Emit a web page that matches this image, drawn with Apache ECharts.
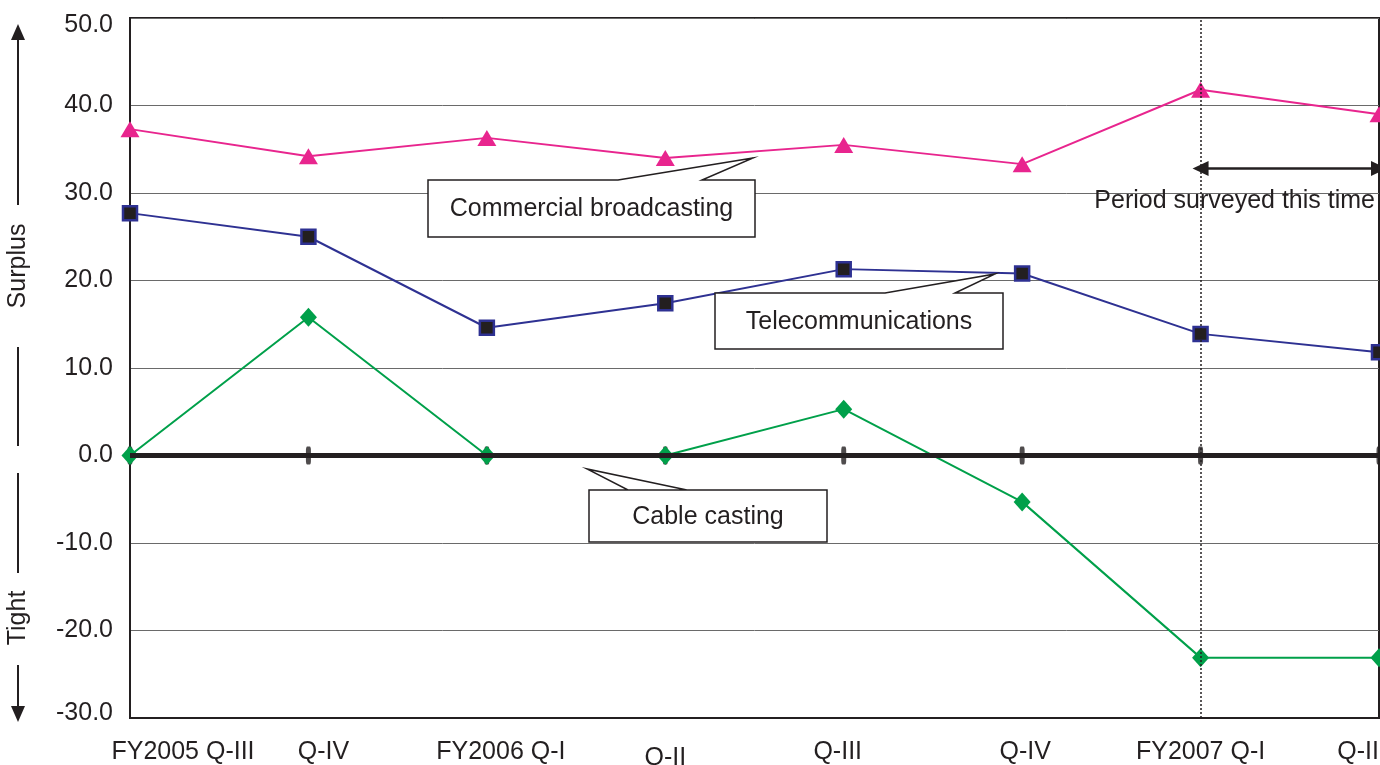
<!DOCTYPE html>
<html>
<head>
<meta charset="utf-8">
<script src="https://cdn.jsdelivr.net/npm/echarts@6/dist/echarts.min.js"></script>
<style>
  html, body { margin: 0; padding: 0; background: #fff; }
  #chart { width: 1380px; height: 765px; }
</style>
</head>
<body>
<div id="chart"></div>
<script>
// Quarterly labour balance index by industry
const categories = ['FY2005 Q-III', 'Q-IV', 'FY2006 Q-I', 'Q-II', 'Q-III', 'Q-IV', 'FY2007 Q-I', 'Q-II'];
const commercialBroadcasting = [37.3, 34.2, 36.3, 34.0, 35.5, 33.3, 41.8, 39.0];
const telecommunications = [27.7, 25.0, 14.6, 17.4, 21.3, 20.8, 13.9, 11.8];
const cableCasting = [0.0, 15.8, 0.0, 0.0, 5.3, -5.3, -23.1, -23.1];
const yMin = -30, yMax = 50, yStep = 10;
const surveyStartIndex = 6;   // first quarter of the surveyed period
const surveyArrowLevel = 32.8;

const INK = '#231F20';
const FONT = '"Liberation Sans", Arial, Helvetica, sans-serif';

const chart = echarts.init(document.getElementById('chart'), null, { renderer: 'canvas' });

// horizontal nudges for individual category labels (px, +right)
const labelShift = [53, 15, 14, 0, -6, 3, 0, 0];
const rich = {};
labelShift.forEach((s, i) => {
  rich['c' + i] = {
    fontSize: 25, fontFamily: FONT, color: INK,
    padding: [i === 3 ? 6 : 0, s < 0 ? -2 * s : 0, 0, s > 0 ? 2 * s : 0]
  };
});

// end labels of the value axis are pulled inward so they stay on the page
const yRich = {
  v: { fontSize: 25, fontFamily: FONT, color: INK },
  top: { fontSize: 25, fontFamily: FONT, color: INK, padding: [14, 0, 0, 0] },
  bottom: { fontSize: 25, fontFamily: FONT, color: INK, padding: [0, 0, 10, 0] }
};

// callout box with a pointer notch in its top edge
function callout(box, notch, text) {
  const [l, t, r, b] = box;
  const [n1, tipX, tipY, n2] = notch;
  return [
    {
      type: 'polygon', z: 50,
      shape: { points: [[l, t], [n1, t], [tipX, tipY], [n2, t], [r, t], [r, b], [l, b]] },
      style: { fill: '#fff', stroke: INK, lineWidth: 1.5 }
    },
    {
      type: 'text', z: 51,
      style: {
        text, x: (l + r) / 2, y: (t + b) / 2 + 1, align: 'center', verticalAlign: 'middle',
        font: '25px ' + FONT, fill: INK
      }
    }
  ];
}

const option = {
  animation: false,
  backgroundColor: '#fff',
  grid: {
    left: 130, right: 1, top: 18, bottom: 47,
    outerBoundsMode: 'none', containLabel: false,
    show: true, borderColor: INK, borderWidth: 2, backgroundColor: 'transparent'
  },
  xAxis: {
    type: 'category',
    data: categories,
    boundaryGap: false,
    axisLine: { onZero: false, lineStyle: { color: INK, width: 2 } },
    axisTick: { show: false },
    splitLine: { show: false },
    axisLabel: {
      interval: 0, margin: 22, alignMaxLabel: 'right', hideOverlap: false,
      formatter: (v, i) => '{c' + i + '|' + v + '}',
      rich
    }
  },
  yAxis: {
    type: 'value',
    min: yMin, max: yMax, interval: yStep,
    axisLine: { show: true, lineStyle: { color: INK, width: 2 } },
    axisTick: { show: false },
    splitLine: { lineStyle: { color: '#6a6a6a', width: 1 } },
    axisLabel: {
      margin: 17,
      formatter: v => {
        const key = v === yMax ? 'top' : v === yMin ? 'bottom' : 'v';
        return '{' + key + '|' + v.toFixed(1) + '}';
      },
      rich: yRich
    }
  },
  series: [
    {
      // zero baseline with tick marks at each quarter
      name: 'baseline',
      type: 'scatter',
      data: categories.map((c, i) => [i, 0]),
      symbol: 'roundRect',
      symbolSize: [5, 18],
      itemStyle: { color: INK },
      silent: true,
      z: 1,
      markLine: {
        silent: true,
        symbol: 'none',
        label: { show: false },
        data: [
          { yAxis: 0, lineStyle: { color: INK, width: 5, type: 'solid' } },
          { xAxis: surveyStartIndex, lineStyle: { color: INK, width: 1.5, type: [2, 2] } },
          [
            { coord: [surveyStartIndex, surveyArrowLevel], symbol: 'triangle', symbolSize: [15, 16] },
            { coord: [categories.length - 1, surveyArrowLevel], symbol: 'triangle', symbolSize: [15, 16],
              lineStyle: { color: INK, width: 2.5, type: 'solid' } }
          ]
        ]
      }
    },
    {
      name: 'Commercial broadcasting',
      type: 'line',
      data: commercialBroadcasting,
      symbol: 'triangle',
      symbolSize: [19, 16],
      lineStyle: { color: '#E8258E', width: 2 },
      itemStyle: { color: '#E8258E' },
      z: 3
    },
    {
      name: 'Telecommunications',
      type: 'line',
      data: telecommunications,
      symbol: 'rect',
      symbolSize: 14,
      lineStyle: { color: '#2E3192', width: 2 },
      itemStyle: { color: INK, borderColor: '#2E3192', borderWidth: 2.5 },
      z: 3
    },
    {
      name: 'Cable casting',
      type: 'line',
      data: cableCasting,
      symbol: 'diamond',
      symbolSize: [17, 19],
      lineStyle: { color: '#00A04A', width: 2 },
      itemStyle: { color: '#00A04A' },
      z: 3
    }
  ],
  graphic: [
    // "Surplus" direction marker
    { type: 'line', shape: { x1: 18, y1: 38, x2: 18, y2: 205 }, style: { stroke: INK, lineWidth: 2 } },
    { type: 'polygon', shape: { points: [[18, 24], [11, 40], [25, 40]] }, style: { fill: INK } },
    {
      type: 'text', x: 18, y: 266, rotation: Math.PI / 2,
      style: { text: 'Surplus', align: 'center', verticalAlign: 'middle', font: '25px ' + FONT, fill: INK }
    },
    { type: 'line', shape: { x1: 18, y1: 347, x2: 18, y2: 446 }, style: { stroke: INK, lineWidth: 2 } },
    // "Tight" direction marker
    { type: 'line', shape: { x1: 18, y1: 473, x2: 18, y2: 573 }, style: { stroke: INK, lineWidth: 2 } },
    {
      type: 'text', x: 18, y: 618, rotation: Math.PI / 2,
      style: { text: 'Tight', align: 'center', verticalAlign: 'middle', font: '25px ' + FONT, fill: INK }
    },
    { type: 'line', shape: { x1: 18, y1: 665, x2: 18, y2: 708 }, style: { stroke: INK, lineWidth: 2 } },
    { type: 'polygon', shape: { points: [[18, 722], [11, 706], [25, 706]] }, style: { fill: INK } },
    // surveyed period caption
    {
      type: 'text', z: 20,
      style: {
        text: 'Period surveyed this time', x: 1375, y: 201, align: 'right', verticalAlign: 'middle',
        font: '25px ' + FONT, fill: INK
      }
    },
    ...callout([428, 180, 755, 237], [618, 753, 158, 702], 'Commercial broadcasting'),
    ...callout([715, 293, 1003, 349], [885, 995, 274, 955], 'Telecommunications'),
    ...callout([589, 490, 827, 542], [687, 587, 469, 628], 'Cable casting')
  ]
};

chart.setOption(option);
</script>
</body>
</html>
